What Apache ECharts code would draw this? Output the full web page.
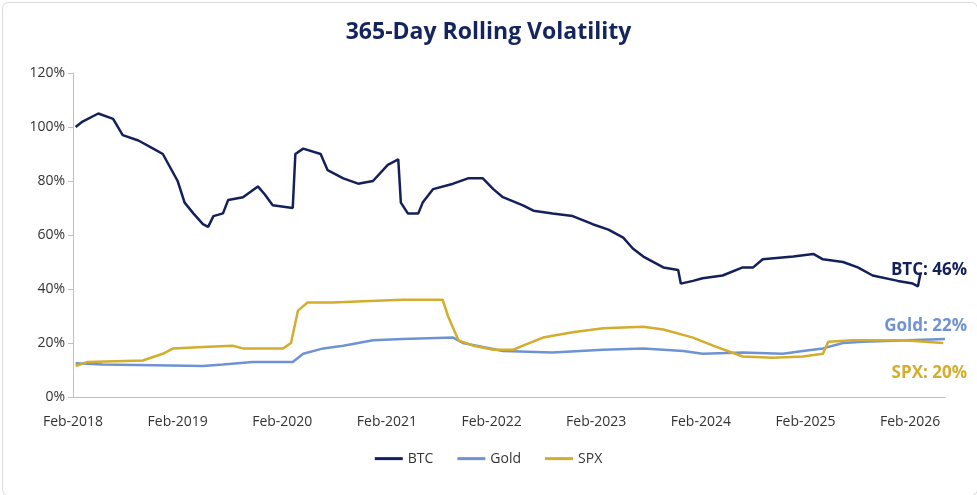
<!DOCTYPE html>
<html>
<head>
    <script src="https://cdn.jsdelivr.net/npm/echarts@6/dist/echarts.min.js"></script>
    <style>
        body { margin: 0; background: #fff; }
        #chart { width: 977px; height: 495px; }
    </style>
</head>
<body>
    <div id="chart"></div>
    <script>
        // x = months since Feb-2018
        const btc = [[0.3,100],[1.1,102],[2.9,105],[4.6,103],[5.7,97],[7.5,95],[9.2,92],[10.3,90],[12.0,80],[12.8,72],[13.8,68],[14.9,64],[15.5,63],[16.1,67],[17.2,68],[17.8,73],[19.5,74],[21.2,78],[22.0,75],[22.9,71],[25.2,70],[25.5,90],[26.4,92],[28.4,90],[29.2,84],[31.0,81],[32.7,79],[34.4,80],[36.1,86],[37.3,88],[37.6,72],[38.4,68],[39.6,68],[40.1,72],[41.3,77],[43.6,79],[45.3,81],[47.0,81],[48.2,77],[49.3,74],[51.6,71],[52.8,69],[55.0,68],[57.3,67],[59.6,64],[61.4,62],[63.1,59],[64.2,55],[65.4,52],[67.7,48],[69.4,47],[69.7,42],[71.1,43],[72.2,44],[74.5,45],[76.8,48],[78.0,48],[79.1,51],[82.6,52],[84.9,53],[86.0,51],[88.3,50],[90.0,48],[91.7,45],[94.6,43],[96.3,42],[96.9,41],[97.2,46]];
        const gold = [[0.3,12.5],[3.4,12],[14.9,11.5],[17.2,12],[20.6,13],[25.2,13],[26.4,16],[28.7,18],[31,19],[34.4,21],[37.8,21.5],[43.6,22],[44.7,20],[47,18.5],[49.3,17],[55,16.5],[60.8,17.5],[65.4,18],[70,17],[72.2,16],[76.8,16.5],[81.4,16],[83.7,17],[86,18],[88.3,20],[90.6,20.5],[100,21.5]];
        const spx = [[0.3,11.5],[1.7,13],[8,13.5],[10.3,16],[11.5,18],[14.9,18.5],[18.3,19],[19.5,18],[24.1,18],[25,20],[25.8,32],[26.9,35],[29.8,35],[33.3,35.5],[37.8,36],[42.4,36],[43,30],[44.2,21],[45.9,19],[48.2,17.5],[50.5,17.5],[51.6,19],[53.9,22],[57.3,24],[60.8,25.5],[65.4,26],[67.7,25],[71.1,22],[73.4,19],[76.8,15],[80.3,14.5],[83.7,15],[86,16],[86.6,20.5],[89.4,21],[95.2,21],[99.8,20]];
        const endLabels = ['BTC: 46%', 'Gold: 22%', 'SPX: 20%'];

        const font = '"Open Sans", sans-serif';
        const chart = echarts.init(document.getElementById('chart'));
        chart.setOption({
            animation: false,
            title: {
                text: '365-Day Rolling Volatility', left: 'center', top: 6,
                textStyle: { fontFamily: font, fontSize: 23, fontWeight: 'bold', color: '#14245c' }
            },
            grid: { left: 73, right: 32, top: 73, bottom: 98 },
            xAxis: {
                type: 'value', min: 0, max: 100, interval: 12,
                axisLine: { lineStyle: { color: '#bfbfbf' } },
                axisTick: { show: false },
                splitLine: { show: false },
                axisLabel: {
                    fontFamily: font, fontSize: 14, color: '#333', margin: 14,
                    formatter: v => 'Feb-' + (2018 + v / 12)
                }
            },
            yAxis: {
                type: 'value', min: 0, max: 120, interval: 20,
                axisLine: { show: true, lineStyle: { color: '#bfbfbf' } },
                splitLine: { show: false },
                axisLabel: { fontFamily: font, fontSize: 14, color: '#333', formatter: '{value}%' }
            },
            legend: {
                bottom: 20, itemWidth: 28, itemHeight: 3, itemGap: 24, icon: 'rect',
                textStyle: { fontFamily: font, fontSize: 14, color: '#333' }
            },
            series: [
                { name: 'BTC', type: 'line', data: btc, symbol: 'none', lineStyle: { width: 2.5, color: '#14205a' }, itemStyle: { color: '#14205a' } },
                { name: 'Gold', type: 'line', data: gold, symbol: 'none', lineStyle: { width: 2.5, color: '#6f93d2' }, itemStyle: { color: '#6f93d2' } },
                { name: 'SPX', type: 'line', data: spx, symbol: 'none', lineStyle: { width: 2.5, color: '#d2ad2e' }, itemStyle: { color: '#d2ad2e' } }
            ],
            graphic: [
                { type: 'rect', left: 0, top: 0, shape: { width: 975, height: 493, r: 6 }, style: { fill: 'none', stroke: '#d9d9d9', lineWidth: 1 } },
                { type: 'text', right: 10, top: 254, style: { text: endLabels[0], fill: '#14205a', font: 'bold 17px "Open Sans", sans-serif' } },
                { type: 'text', right: 10, top: 310, style: { text: endLabels[1], fill: '#6f93d2', font: 'bold 17px "Open Sans", sans-serif' } },
                { type: 'text', right: 10, top: 357, style: { text: endLabels[2], fill: '#d2ad2e', font: 'bold 17px "Open Sans", sans-serif' } }
            ]
        });
    </script>
</body>
</html>
